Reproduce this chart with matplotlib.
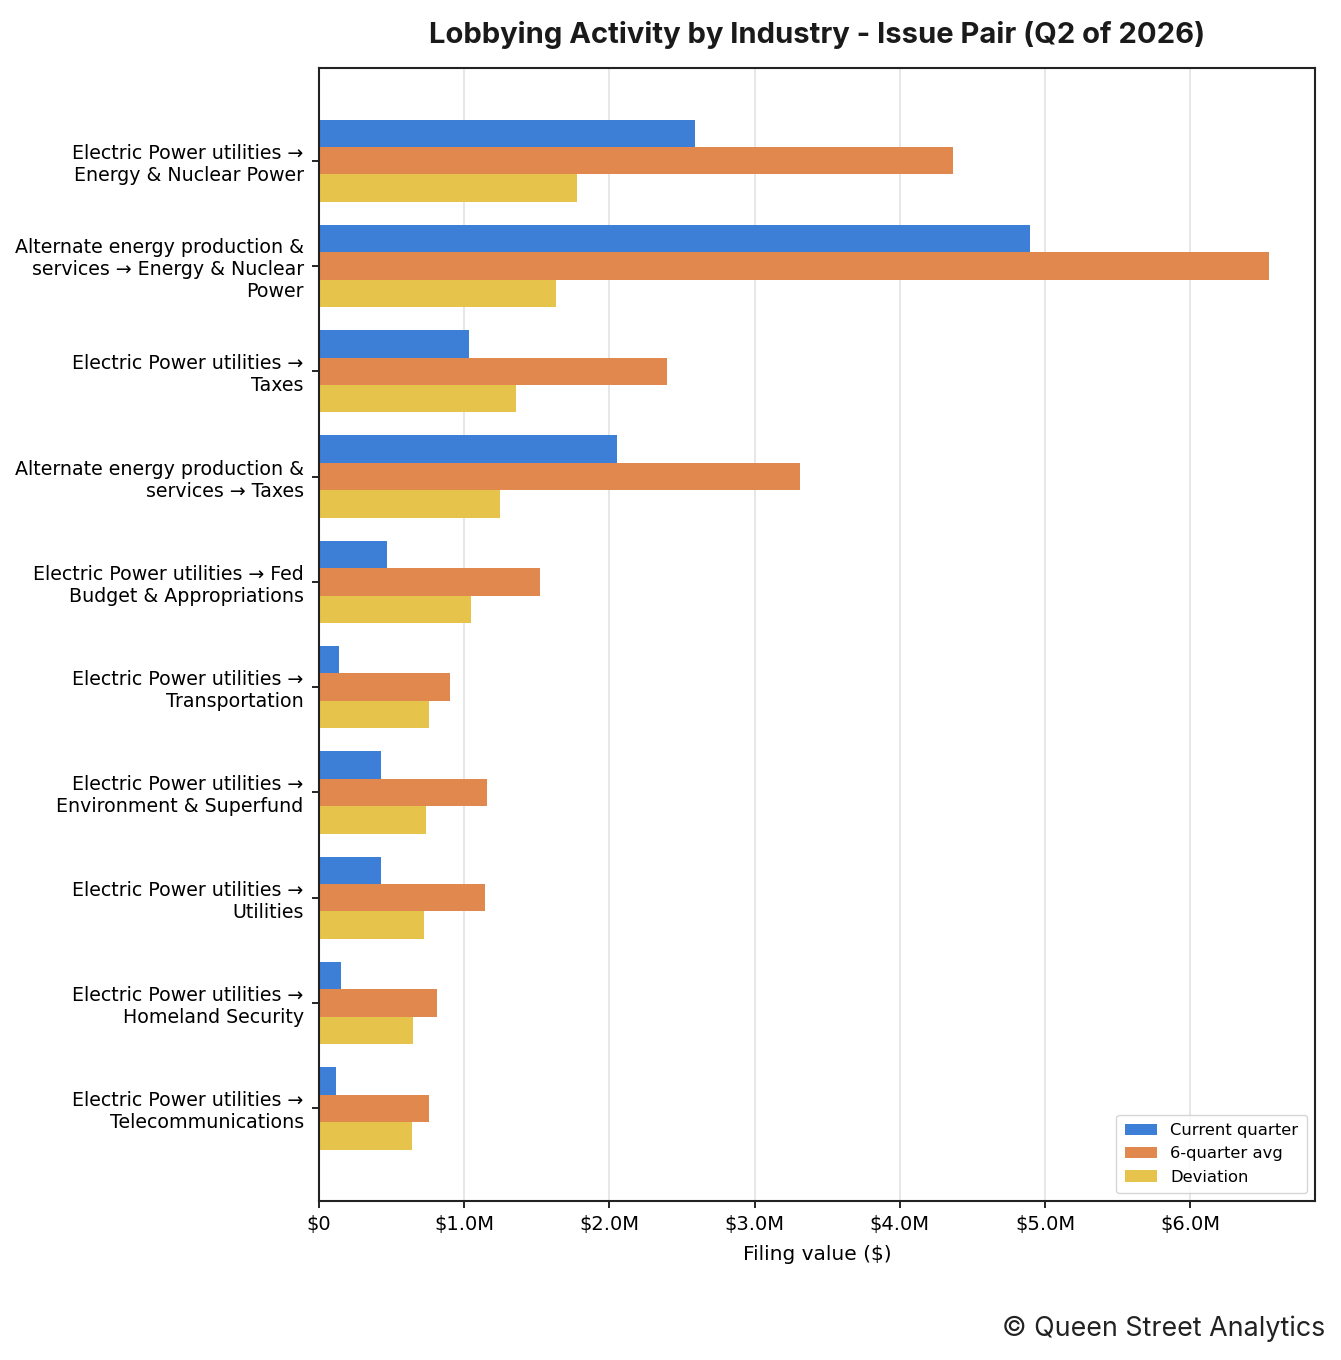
import matplotlib
matplotlib.use("Agg")
import matplotlib.pyplot as plt
import numpy as np
from matplotlib.ticker import FuncFormatter

plt.rcParams["font.family"] = ["DejaVu Sans"]

categories = [
    "Electric Power utilities →\nEnergy & Nuclear Power",
    "Alternate energy production &\nservices → Energy & Nuclear\nPower",
    "Electric Power utilities →\nTaxes",
    "Alternate energy production &\nservices → Taxes",
    "Electric Power utilities → Fed\nBudget & Appropriations",
    "Electric Power utilities →\nTransportation",
    "Electric Power utilities →\nEnvironment & Superfund",
    "Electric Power utilities →\nUtilities",
    "Electric Power utilities →\nHomeland Security",
    "Electric Power utilities →\nTelecommunications",
]
current_quarter = [2.59, 4.90, 1.03, 2.05, 0.47, 0.14, 0.43, 0.43, 0.15, 0.12]
six_quarter_avg = [4.37, 6.54, 2.40, 3.31, 1.52, 0.90, 1.16, 1.14, 0.81, 0.76]
deviation = [1.78, 1.63, 1.36, 1.25, 1.05, 0.76, 0.74, 0.72, 0.65, 0.64]

series = [
    ("Current quarter", current_quarter, "#3d7fd6"),
    ("6-quarter avg", six_quarter_avg, "#e0884e"),
    ("Deviation", deviation, "#e6c34a"),
]

fig = plt.figure(figsize=(13.41, 13.6), dpi=100)
ax = fig.add_axes([319 / 1341, 1 - 1201 / 1360, (1315 - 319) / 1341, (1201 - 68) / 1360])

y = np.arange(len(categories))
h = 0.26
for i, (name, vals, color) in enumerate(series):
    ax.barh(y + (i - 1) * h, np.array(vals) * 1e6, height=h, color=color, label=name, zorder=2)

ax.set_yticks(y)
ax.set_yticklabels(categories, fontsize=13.7)
ax.invert_yaxis()
ax.set_xlim(0, 6.86e6)


def fmt(v, _):
    if v == 0:
        return "$0"
    return f"${v / 1e6:.1f}M"


ax.xaxis.set_major_formatter(FuncFormatter(fmt))
ax.tick_params(axis="x", labelsize=14, length=5, width=1.2, pad=5)
ax.tick_params(axis="y", length=5, width=1.2, pad=6)
ax.grid(axis="x", color="#e3e3e3", linewidth=1.2, zorder=0)
ax.set_axisbelow(True)
for s in ax.spines.values():
    s.set_color("#222222")
    s.set_linewidth(1.5)
ax.set_xlabel("Filing value ($)", fontsize=14.5, labelpad=8)

ax.legend(loc="lower right", fontsize=11.8, frameon=True, edgecolor="#cccccc",
          handlelength=2, borderpad=0.5, labelspacing=0.5, fancybox=True)

fig.text(817 / 1341, 1 - 35 / 1360, "Lobbying Activity by Industry - Issue Pair (Q2 of 2026)",
         ha="center", va="center", fontsize=21, fontweight="bold", family="Inter", color="#1a1a1a")
fig.text(1325 / 1341, 1 - 1329 / 1360, "© Queen Street Analytics", ha="right", va="center",
         fontsize=19.3, family="Inter", color="#222222")

fig.savefig("out.png", dpi=100)
